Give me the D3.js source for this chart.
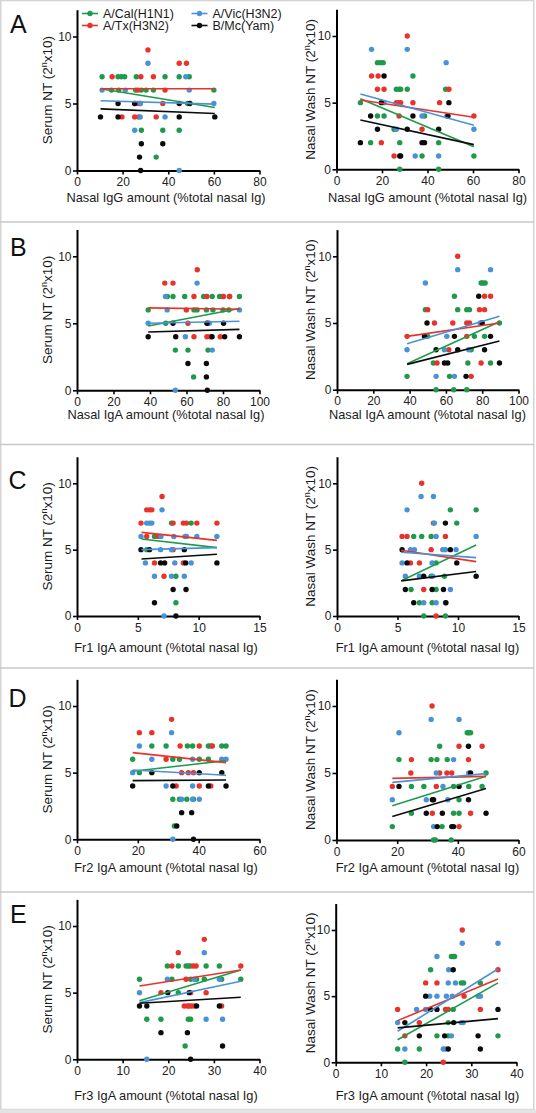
<!DOCTYPE html>
<html><head><meta charset="utf-8">
<script src="https://cdn.jsdelivr.net/npm/d3@7"></script>
<style>
body{margin:0;background:#fff}
svg{display:block}
text{font-family:"Liberation Sans",Arial,Helvetica,sans-serif}
</style>
</head><body>
<svg id="chart" width="536" height="1113"></svg>
<script>
// ---------- categories / labels ----------
const seriesNames = ["A/Cal(H1N1)", "A/Tx(H3N2)", "A/Vic(H3N2)", "B/Mc(Yam)"];
const seriesColors = ["#1f9a4b", "#e8332b", "#4a92d6", "#0b0b0b"];
const rowLetters = ["A", "B", "C", "D", "E"];
const xLabels = [
  "Nasal IgG amount (%total nasal Ig)",
  "Nasal IgA amount (%total nasal Ig)",
  "Fr1 IgA amount (%total nasal Ig)",
  "Fr2 IgA amount (%total nasal Ig)",
  "Fr3 IgA amount (%total nasal Ig)"
];
const xMax = [80, 100, 15, 60, 40];
const xTicks = [[0,20,40,60,80],[0,20,40,60,80,100],[0,5,10,15],[0,20,40,60],[0,10,20,30,40]];
const yTicks = [0, 5, 10];
const yLabelLeft = "Serum NT";
const yLabelRight = "Nasal Wash NT";

// ---------- data: [x, y] per series (Cal, Tx, Vic, Yam) ----------
const serumA = [
  [[11,7],[18,7],[19.4,7],[20.9,7],[26,7],[38.6,7],[44.8,7],[49.2,7],[15.1,6],[18.3,6],[25.7,6],[28.2,6],[30.3,6],[33.5,6],[60,6],[48.5,5],[28.2,3],[37.6,3],[44.8,3],[34.7,1]],
  [[31.1,9],[44.8,8],[48,8],[15.4,7],[28,7],[33.5,7],[26.7,6],[38.6,6],[25.3,5],[26.7,5],[27.7,5],[37.6,5],[19.7,4],[25.3,4],[27.1,4],[34.7,4]],
  [[31.1,8],[47.7,7],[11,6],[21.2,6],[49.2,6],[27.7,5],[60,5],[27.7,4],[38.6,4],[25.3,3],[44.8,0]],
  [[18,5],[25.3,5],[44.8,5],[49.5,5],[10.3,4],[18,4],[44.8,4],[60.4,4],[28.2,2],[37.6,2],[27.4,1],[27.9,0]]
];
const serumAFit = [[10.3,6.1,60.4,4.7],[10.3,6.1,60.4,6.1],[10.3,5.2,60.4,4.95],[10.3,4.6,60.4,4.25]];

const nasalA = [
  [[18,8],[19.4,8],[20.5,8],[33.6,7],[26.3,6],[27.5,6],[28.2,6],[31.1,6],[48,6],[10.5,5],[18,4],[20.9,4],[38.7,4],[25.3,3],[15,2],[27.8,2],[44.9,2],[37.6,1],[60.4,1],[27.8,0],[44.9,0]],
  [[31.1,10],[15.4,7],[18.3,7],[18,6],[20.9,6],[49.4,6],[26.3,5],[27.5,5],[28.2,5],[33.6,5],[45.3,5],[27.5,4],[60.4,4],[37.6,3],[19.7,2],[25.3,1]],
  [[15.4,9],[31.1,9],[48.2,8],[20.9,5],[37.6,4],[48.5,4],[26.3,3],[60.4,3],[34.6,1],[44.9,1]],
  [[20.9,7],[19.7,5],[49.4,5],[15,4],[33.6,4],[49,4],[18,3],[31.1,3],[44.9,3],[10.5,2],[37.6,2],[38.7,2],[27.8,1],[28.2,1]]
];
const nasalAFit = [[10.5,5.3,60.4,1.7],[10.5,5.2,60.4,3.9],[10.5,5.65,60.4,3.3],[10.5,3.7,60.4,1.85]];

const serumB = [
  [[49.5,7],[52.6,7],[59,7],[69.4,7],[74.1,7],[78.1,7],[79.6,7],[83.6,7],[89,7],[39,6],[64.1,6],[65.8,6],[70.9,6],[74.5,6],[80,6],[83.2,6],[48.6,5],[53.9,3],[60.8,3],[71.8,3],[63.9,1]],
  [[65.9,9],[48.1,8],[52.6,8],[64.1,7],[71.2,7],[80.3,7],[83.6,7],[59.9,6],[60.8,5],[71.8,5],[64.1,4],[71.2,4],[73,4],[78.5,4]],
  [[65.8,8],[48.5,7],[49.4,6],[89,6],[39,5],[72.5,5],[59.4,4],[74.1,3],[53.9,0]],
  [[52.6,5],[71.2,5],[80.3,5],[39,4],[54.1,4],[74,4],[80.9,4],[89,4],[60.8,2],[70.9,2],[70.9,1],[71.4,0]]
];
const serumBFit = [[39,4.8,89,6.1],[39,6.15,89,6.05],[39,5.0,89,5.15],[39,4.35,89,4.55]];

const nasalB = [
  [[80.3,8],[81.6,8],[79.4,8],[64.7,7],[48.7,6],[66.5,6],[71.5,6],[73,6],[89.5,5],[50,4],[75.7,4],[81.3,4],[73.9,3],[53.1,2],[72.1,2],[84.6,2],[38.6,1],[62,1],[54.6,0],[64.3,0],[71.5,0]],
  [[66.5,10],[81.3,7],[84.6,7],[50,6],[78.5,6],[81.3,6],[53.7,5],[63.8,5],[71.5,5],[73,5],[38.6,4],[71.5,4],[61.6,3],[55.1,2],[79.4,2],[73.9,1]],
  [[66.5,9],[84.6,9],[48.7,8],[78.9,5],[60.5,4],[38.6,3],[59.2,3],[72.6,3],[54.6,1],[64.7,1]],
  [[78.1,7],[49.6,5],[80,5],[48.2,4],[64.7,4],[84.6,4],[54.6,3],[66.5,3],[81.3,3],[59.2,2],[61,2],[89.5,2],[71.1,1]]
];
const nasalBFit = [[38.6,1.95,89.5,5.1],[38.6,4.0,89.5,5.0],[38.6,3.45,89.5,5.5],[38.6,1.9,89.5,3.65]];

const serumC = [
  [[7.77,7],[9.38,7],[6.37,6],[5.73,5],[8.13,3],[8.13,1]],
  [[6.99,9],[5.73,8],[5.96,8],[6.15,8],[5.26,7],[7.9,7],[8.74,7],[9.0,7],[9.85,7],[11.5,7],[5.73,6],[6.65,6],[7.9,5],[6.37,4],[8.74,4],[7.15,3]],
  [[6.99,8],[5.73,7],[5.96,7],[6.15,7],[5.26,6],[6.9,6],[7.96,6],[8.88,6],[9.0,6],[9.85,6],[11.5,6],[6.87,5],[7.77,5],[5.62,4],[8.04,4],[9.38,4],[6.37,3],[7.77,3],[8.82,3],[7.15,0]],
  [[5.26,5],[5.96,5],[8.82,5],[6.87,4],[7.2,4],[8.93,4],[11.5,4],[7.9,2],[8.96,2],[6.37,1],[8.13,0]]
];
const serumCFit = [[5.3,5.8,11.5,5.15],[5.3,6.3,11.5,5.7],[5.3,5.0,11.5,5.15],[5.3,4.3,11.5,4.65]];

const nasalC = [
  [[9.37,8],[11.5,8],[9.9,7],[6.34,6],[7.0,6],[7.78,6],[8.19,4],[7.78,3],[8.88,3],[6.12,2],[8.19,2],[6.81,1],[7.86,1],[7.17,0],[8.96,0]],
  [[7.0,10],[7.97,7],[5.38,6],[5.79,6],[8.96,6],[7.78,5],[6.07,4],[6.81,4],[7.17,2],[8.19,0]],
  [[6.95,9],[7.97,9],[5.79,8],[8.05,7],[8.19,6],[11.5,6],[6.07,5],[6.4,5],[8.74,5],[8.96,5],[9.84,5],[5.38,4],[7.86,4],[5.65,3],[6.81,3],[7.9,3],[9.37,2],[7.17,1],[8.19,1],[8.96,1]],
  [[8.96,7],[5.38,5],[9.37,5],[5.79,4],[9.9,4],[7.17,3],[11.5,3],[5.65,2],[7.86,2],[8.8,2],[6.34,1],[9.0,1]]
];
const nasalCFit = [[5.4,2.7,11.5,5.35],[5.3,4.95,11.5,4.1],[5.3,4.8,11.5,4.4],[5.3,2.65,11.5,3.35]];

const serumD = [
  [[24.6,7],[29.3,7],[36.3,7],[38,7],[43.2,7],[44,7],[47.6,7],[49,7],[18.3,6],[31.5,6],[33.7,6],[40.2,6],[43.2,6],[20.5,5],[31.5,3],[33.7,3],[36.1,3],[38.3,3],[32,1]],
  [[31.1,9],[20.5,8],[24.6,8],[33.9,7],[40.2,7],[44.5,7],[29.3,6],[34.4,5],[36.6,5],[38.3,5],[32.6,4],[40.2,4],[44,4]],
  [[31.1,8],[20.5,7],[24.6,6],[38,6],[47.6,6],[49,6],[18.3,5],[29.3,4],[38,4],[34.4,3],[38,3],[40.2,3],[31.5,0]],
  [[24.6,5],[40.2,5],[47.6,5],[18.3,4],[31.5,4],[43.2,4],[49,4],[34.4,2],[37.7,2],[32.8,1],[38.3,0]]
];
const serumDFit = [[18.3,5.1,49,5.9],[18.3,6.5,49,5.75],[18.3,5.2,49,4.8],[18.3,4.4,49,4.45]];

const nasalD = [
  [[43.1,8],[43.6,8],[44.2,8],[34,7],[20.6,6],[31.2,6],[33.1,6],[36.5,6],[49.3,5],[24.7,4],[28.8,4],[38.6,4],[43.6,4],[48,4],[40.4,3],[24.7,2],[38.6,2],[40.4,2],[18.4,1],[34.8,1],[32,0],[32.6,0],[37.8,0]],
  [[31.5,10],[40.4,7],[48,7],[24.7,6],[43.5,6],[24.5,5],[34,5],[36.4,5],[38,5],[18.4,4],[32.9,4],[31.6,2],[44.2,2],[40.4,1]],
  [[31.2,9],[40.4,9],[20.6,8],[38.6,6],[32.9,5],[43.6,5],[35.1,4],[18.4,3],[29.6,3],[36.7,3],[32,1]],
  [[43.5,7],[44.2,5],[20.6,4],[40.4,4],[31.6,3],[32,3],[43.5,3],[29.6,2],[34.9,2],[49.3,2],[33.2,1],[38,1],[38.6,1]]
];
const nasalDFit = [[18.4,2.55,49.3,4.75],[18.4,4.6,49.3,4.75],[18.4,4.3,49.3,4.95],[18.4,1.75,49.3,3.85]];

const serumE = [
  [[19.8,7],[22.2,7],[23.9,7],[24.4,7],[24.9,7],[28.3,7],[31.2,7],[13.7,6],[20.8,6],[24.9,6],[26.2,6],[27.9,6],[31.7,6],[35.9,6],[22.2,5],[15.3,3],[18.4,3],[24.4,3],[24.9,3],[23.7,1]],
  [[27.9,9],[22.2,8],[20.8,7],[25.5,7],[26.1,7],[35.9,7],[23.9,6],[18.4,5],[24.9,5],[28.3,5],[23.5,4],[24.2,4],[24.6,4],[25.1,4],[25.7,4],[31.7,4]],
  [[27.9,8],[19.8,6],[25.7,6],[31.2,6],[13.7,5],[28.3,3],[31.9,3],[15.3,0]],
  [[19.9,5],[24.6,5],[13.7,4],[15.3,4],[26.2,4],[31.2,4],[18.4,2],[24.2,2],[31.9,1],[24.9,0]]
];
const serumEFit = [[13.7,4.4,35.9,6.7],[13.7,5.5,35.9,6.7],[13.7,4.25,35.9,5.85],[13.7,4.2,35.9,4.65]];

const nasalE = [
  [[25.6,8],[26,8],[26.3,8],[21,7],[27.8,6],[28.3,6],[32,6],[26,4],[24.9,3],[22.4,2],[24.9,2],[35.9,2],[13.7,1],[18.5,1],[15.3,0]],
  [[28,10],[35.9,7],[19.9,6],[22.4,6],[28.4,5],[13.7,4],[24.3,4],[24.9,4],[32,4],[18.5,3],[15.3,2],[23.8,0]],
  [[28,9],[35.9,9],[22.4,8],[25,7],[24.9,6],[26.5,6],[20.8,5],[22.4,5],[24.5,5],[25.8,5],[31.5,5],[32,5],[17.9,4],[19.9,4],[13.7,3],[27.8,3],[28.2,3],[25.6,2],[15.3,1],[23.8,1],[24.3,1]],
  [[26,7],[19.9,5],[21,4],[22.4,4],[35.9,4],[15.3,3],[26.1,3],[18.5,2],[24.1,2],[31.5,2],[24.9,1],[32,1]]
];
const nasalEFit = [[13.7,1.7,35.9,6.0],[13.7,3.15,35.9,6.3],[13.7,2.35,35.9,7.05],[13.7,2.6,35.9,3.3]];

const serumRows = [serumA, serumB, serumC, serumD, serumE];
const serumFits = [serumAFit, serumBFit, serumCFit, serumDFit, serumEFit];
const nasalRows = [nasalA, nasalB, nasalC, nasalD, nasalE];
const nasalFits = [nasalAFit, nasalBFit, nasalCFit, nasalDFit, nasalEFit];

// ---------- layout ----------
const W = 536, H = 1113;
const xRangeLeft = [77, 259.5];
const xRangeRight = [[336.5, 518.5], [337, 518.5], [337, 518.5], [336.5, 518.5], [335.7, 516.5]];
const yBase = [[170.5, 169.3], [390.3, 389.7], [616, 616], [839.3, 840], [1059.3, 1062.3]];
const yUnit = [[13.4, 13.33], [13.4, 13.34], [13.27, 13.27], [13.33, 13.4], [13.33, 13.23]];
const letterPos = [[10, 33], [10, 256.3], [8.5, 489.3], [8.5, 706.7], [10, 923.3]];
const xLabelY = [201.5, 419, 652, 871.5, 1099.5];
const separators = [222, 444.5, 668, 892];

const svg = d3.select("#chart");

// frame
svg.append("rect").attr("x", 0.75).attr("y", 0.5).attr("width", 533).attr("height", 1109)
  .attr("fill", "none").attr("stroke", "#d4d4d4").attr("stroke-width", 1.5);
svg.append("rect").attr("x", 0).attr("y", 1109.5).attr("width", W).attr("height", 4).attr("fill", "#e3e3e3");
separators.forEach(s => svg.append("line").attr("x1", 0).attr("x2", 534).attr("y1", s).attr("y2", s)
  .attr("stroke", "#c8c8c8").attr("stroke-width", 1.3));

function yLabel(g, x, cy, main) {
  const t = g.append("text").attr("transform", `translate(${x},${cy}) rotate(-90)`)
    .attr("text-anchor", "middle").attr("font-size", 13.5).attr("fill", "#1a1a1a");
  t.append("tspan").text(main + " (2");
  t.append("tspan").attr("font-size", 9).attr("dy", -5).text("n");
  t.append("tspan").attr("dy", 5).text("x10)");
}

rowLetters.forEach((letter, r) => {
  svg.append("text").attr("x", letterPos[r][0]).attr("y", letterPos[r][1])
    .attr("font-size", 25).attr("fill", "#111").text(letter);

  [0, 1].forEach(side => {
    const groups = side === 0 ? serumRows[r] : nasalRows[r];
    const fits = side === 0 ? serumFits[r] : nasalFits[r];
    const y0 = yBase[r][side];
    const x = d3.scaleLinear().domain([0, xMax[r]]).range(side === 0 ? xRangeLeft : xRangeRight[r]);
    const y = d3.scaleLinear().domain([0, 12]).range([y0, y0 - 12 * yUnit[r][side]]);
    const g = svg.append("g");

    const ax = g.append("g").attr("transform", `translate(0,${y0})`)
      .call(d3.axisBottom(x).tickValues(xTicks[r]).tickFormat(d3.format("d")).tickSize(4).tickSizeOuter(0).tickPadding(3));
    const ay = g.append("g").attr("transform", `translate(${x(0)},0)`)
      .call(d3.axisLeft(y).tickValues(yTicks).tickFormat(d3.format("d")).tickSize(4).tickSizeOuter(0).tickPadding(1.5));
    [ax, ay].forEach(a => {
      a.select(".domain").attr("stroke", "#000").attr("stroke-width", 2);
      a.selectAll(".tick line").attr("stroke", "#000").attr("stroke-width", 1.6);
      a.selectAll(".tick text").attr("font-size", 12).attr("fill", "#222")
        .attr("font-family", '"Liberation Sans",Arial,sans-serif');
    });

    // points
    groups.forEach((pts, si) => {
      g.append("g").selectAll("circle").data(pts).join("circle")
        .attr("cx", d => x(d[0])).attr("cy", d => y(d[1])).attr("r", 2.7)
        .attr("fill", seriesColors[si]);
    });
    // regression lines
    fits.forEach((f, si) => {
      g.append("line").attr("x1", x(f[0])).attr("y1", y(f[1])).attr("x2", x(f[2])).attr("y2", y(f[3]))
        .attr("stroke", seriesColors[si]).attr("stroke-width", 1.6);
    });

    // labels
    const xc = side === 0 ? 166 : 427.5;
    g.append("text").attr("x", xc).attr("y", xLabelY[r]).attr("text-anchor", "middle")
      .attr("font-size", 12.8).attr("fill", "#1a1a1a").text(xLabels[r]);
    yLabel(g, side === 0 ? 52 : 314.5, (y0 + y(12)) / 2, side === 0 ? yLabelLeft : yLabelRight);
  });
});

// legend
const legendPos = [[82, 13.5], [82, 25.5], [191.5, 13.5], [191.5, 25.5]];
seriesNames.forEach((name, i) => {
  const [lx, ly] = legendPos[i];
  const lg = svg.append("g");
  lg.append("line").attr("x1", lx).attr("x2", lx + 16).attr("y1", ly).attr("y2", ly)
    .attr("stroke", seriesColors[i]).attr("stroke-width", 1.6);
  lg.append("circle").attr("cx", lx + 8).attr("cy", ly).attr("r", 2.7).attr("fill", seriesColors[i]);
  lg.append("text").attr("x", lx + 21).attr("y", ly + 4.4).attr("font-size", 12.5).attr("fill", "#1a1a1a").text(name);
});
</script>
</body></html>
